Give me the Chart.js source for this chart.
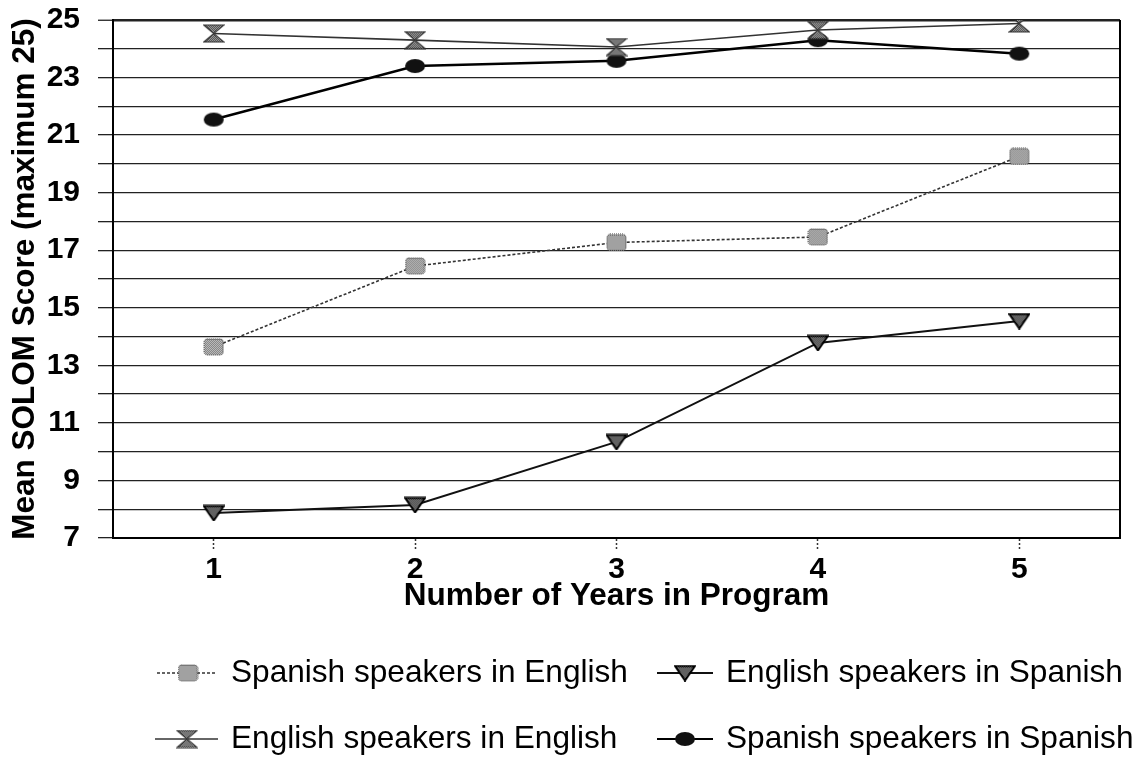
<!DOCTYPE html>
<html><head><meta charset="utf-8">
<script src="https://cdn.jsdelivr.net/npm/chart.js@4"></script>
<style>html,body{margin:0;padding:0;background:#fff}#wrap{width:1138px;height:771px}</style>
</head><body><div id="wrap"><canvas id="c" width="1138" height="771"></canvas></div>
<script>
// ---- data ----
const years = ['1', '2', '3', '4', '5'];
const seriesNames = ['Spanish speakers in English', 'English speakers in Spanish', 'English speakers in English', 'Spanish speakers in Spanish'];
const spanishInEnglish = [13.64, 16.45, 17.27, 17.46, 20.26];
const englishInSpanish = [7.87, 8.15, 10.34, 13.78, 14.54];
const englishInEnglish = [24.53, 24.30, 24.06, 24.65, 24.88];
const spanishInSpanish = [21.54, 23.40, 23.58, 24.30, 23.83];
const yMin = 7, yMax = 25, yStep = 1;
const yLabelValues = [7, 9, 11, 13, 15, 17, 19, 21, 23, 25];
const xTitle = 'Number of Years in Program';
const yTitle = 'Mean SOLOM Score (maximum 25)';

// ---- marker images ----
function pattern(c1, c2) {
  const p = document.createElement('canvas'); p.width = 2; p.height = 2;
  const g = p.getContext('2d');
  g.fillStyle = c2; g.fillRect(0, 0, 2, 2);
  g.fillStyle = c1; g.fillRect(0, 0, 1, 1); g.fillRect(1, 1, 1, 1);
  return p;
}
function mk(w, h, draw) {
  const c = document.createElement('canvas'); c.width = w; c.height = h;
  draw(c.getContext('2d'), w, h); return c;
}
const squareImg = mk(21, 18, (g, w, h) => {
  g.fillStyle = g.createPattern(pattern('#6a6a6a', '#d8d8d8'), 'repeat');
  g.beginPath(); g.roundRect(1, 1, w - 2, h - 2, 3); g.fill();
  g.strokeStyle = '#333'; g.lineWidth = 1; g.setLineDash([1, 1]); g.stroke();
});
const triImg = mk(22, 17, (g, w, h) => {
  g.beginPath(); g.moveTo(1, 1.5); g.lineTo(w - 1, 1.5); g.lineTo(w / 2, h - 1); g.closePath();
  g.fillStyle = g.createPattern(pattern('#222', '#a0a0a0'), 'repeat'); g.fill();
  g.strokeStyle = '#000'; g.lineWidth = 2; g.stroke();
});
const hourImg = mk(22, 19, (g, w, h) => {
  g.beginPath();
  g.moveTo(1, 1); g.lineTo(w - 1, 1); g.lineTo(w / 2, h / 2); g.closePath();
  g.moveTo(w / 2, h / 2); g.lineTo(w - 1, h - 1); g.lineTo(1, h - 1); g.closePath();
  g.fillStyle = g.createPattern(pattern('#333', '#bbb'), 'repeat'); g.fill();
  g.strokeStyle = '#333'; g.lineWidth = 1.2; g.stroke();
});
const circImg = mk(22, 16, (g, w, h) => {
  g.beginPath(); g.ellipse(w / 2, h / 2, w / 2 - 1, h / 2 - 1, 0, 0, Math.PI * 2);
  g.fillStyle = '#111'; g.fill();
});

const datasets = [
  { label: seriesNames[0], data: spanishInEnglish, borderColor: '#333', borderWidth: 1.6, borderDash: [3, 2], pointStyle: squareImg },
  { label: seriesNames[1], data: englishInSpanish, borderColor: '#111', borderWidth: 2, pointStyle: triImg },
  { label: seriesNames[2], data: englishInEnglish, borderColor: '#333', borderWidth: 1.6, pointStyle: hourImg },
  { label: seriesNames[3], data: spanishInSpanish, borderColor: '#000', borderWidth: 2.5, pointStyle: circImg }
].map(d => Object.assign({ fill: false, tension: 0, pointRadius: 10, pointHoverRadius: 10, backgroundColor: '#000' }, d));

// ---- legend + frame plugin ----
const legendPos = [
  { lx0: 157, lx1: 217, mx: 188, tx: 231, y: 673 },
  { lx0: 657, lx1: 713, mx: 685, tx: 726, y: 673 },
  { lx0: 155, lx1: 218, mx: 187, tx: 231, y: 739 },
  { lx0: 657, lx1: 713, mx: 685, tx: 726, y: 739 }
];
const customLegend = {
  id: 'customLegend',
  afterDraw(chart) {
    const ctx = chart.ctx, a = chart.chartArea;
    ctx.save();
    // right frame
    ctx.strokeStyle = '#000'; ctx.lineWidth = 2;
    ctx.beginPath(); ctx.moveTo(a.right, a.top); ctx.lineTo(a.right, a.bottom); ctx.stroke();
    chart.data.datasets.forEach((ds, i) => {
      const p = legendPos[i];
      ctx.strokeStyle = ds.borderColor; ctx.lineWidth = Math.min(ds.borderWidth, 1.8);
      ctx.setLineDash(ds.borderDash || []);
      ctx.beginPath(); ctx.moveTo(p.lx0, p.y); ctx.lineTo(p.lx1, p.y); ctx.stroke();
      ctx.setLineDash([]);
      const img = ds.pointStyle;
      ctx.drawImage(img, p.mx - img.width / 2, p.y - img.height / 2);
      ctx.fillStyle = '#000';
      ctx.font = '31.6px "Liberation Sans", Arial, sans-serif';
      ctx.textBaseline = 'middle'; ctx.textAlign = 'left';
      ctx.fillText(ds.label, p.tx, p.y);
    });
    ctx.restore();
  }
};

new Chart(document.getElementById('c'), {
  type: 'line',
  data: { labels: years, datasets },
  plugins: [customLegend],
  options: {
    responsive: false,
    animation: false,
    layout: { padding: { left: 0, right: 18, top: 20, bottom: 156 } },
    plugins: { legend: { display: false }, tooltip: { enabled: false } },
    scales: {
      x: {
        type: 'category',
        offset: true,
        afterFit(s) { s.height = 77; s.paddingLeft = 0; s.paddingRight = 0; },
        border: { display: true, color: '#000', width: 2 },
        grid: { display: true, drawOnChartArea: false, drawTicks: true, tickLength: 12, tickColor: '#333', tickWidth: 1.5, tickBorderDash: [2, 2] },
        ticks: { color: '#000', padding: 2, font: { family: '"Liberation Sans", Arial, sans-serif', size: 30, weight: 'bold' } },
        title: { display: true, text: xTitle, color: '#000', padding: { top: 0, bottom: 0 }, font: { family: '"Liberation Sans", Arial, sans-serif', size: 31.5, weight: 'bold' } }
      },
      y: {
        min: yMin, max: yMax,
        afterFit(s) { s.width = 113; s.paddingTop = 0; s.paddingBottom = 0; },
        border: { display: true, color: '#000', width: 2 },
        grid: {
          color: '#222',
          lineWidth: c => (c.tick && c.tick.value === yMax) ? 2.5 : 1.3,
          tickLength: 15, tickColor: '#222', tickWidth: 1.3
        },
        ticks: {
          stepSize: yStep, padding: 18, color: '#000',
          autoSkip: false,
          callback: v => yLabelValues.includes(v) ? String(v) : '',
          font: { family: '"Liberation Sans", Arial, sans-serif', size: 30, weight: 'bold' }
        },
        title: { display: true, text: yTitle, color: '#000', padding: { top: 6, bottom: 0 }, font: { family: '"Liberation Sans", Arial, sans-serif', size: 31.5, weight: 'bold' } }
      }
    }
  }
});
</script></body></html>
